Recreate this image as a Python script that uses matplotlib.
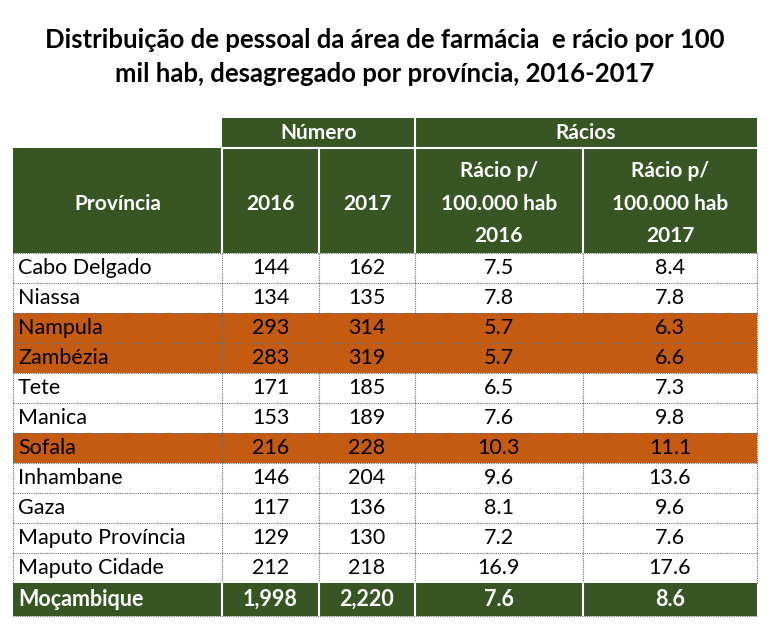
import matplotlib
matplotlib.use("Agg")
import matplotlib.pyplot as plt
from matplotlib.patches import Rectangle

# table data
provincias = ["Cabo Delgado", "Niassa", "Nampula", "Zambézia", "Tete", "Manica",
              "Sofala", "Inhambane", "Gaza", "Maputo Província", "Maputo Cidade"]
num_2016 = [144, 134, 293, 283, 171, 153, 216, 146, 117, 129, 212]
num_2017 = [162, 135, 314, 319, 185, 189, 228, 204, 136, 130, 218]
racio_2016 = [7.5, 7.8, 5.7, 5.7, 6.5, 7.6, 10.3, 9.6, 8.1, 7.2, 16.9]
racio_2017 = [8.4, 7.8, 6.3, 6.6, 7.3, 9.8, 11.1, 13.6, 9.6, 7.6, 17.6]
destaque = ["Nampula", "Zambézia", "Sofala"]
total = ["Moçambique", 1998, 2220, 7.6, 8.6]

titulo = "Distribuição de pessoal da área de farmácia  e rácio por 100\nmil hab, desagregado por província, 2016-2017"
grupos = ["Número", "Rácios"]
cabecalho = ["Província", "2016", "2017", "Rácio p/\n100.000 hab\n2016", "Rácio p/\n100.000 hab\n2017"]

GREEN = "#375623"
ORANGE = "#C55A11"
plt.rcParams["font.family"] = ["Lato", "DejaVu Sans"]

fig = plt.figure(figsize=(7.78, 6.36), dpi=100)
ax = fig.add_axes([0, 0, 1, 1])
ax.set_xlim(0, 778)
ax.set_ylim(636, 0)
ax.axis("off")

cols = [13, 222, 319, 415, 583, 757]
y_grp = (118, 148)
y_head = (148, 253)
row_h = 30
y_data0 = 253
y_tot = (583, 616)
FS = 15.5
FSH = 15

ax.text(385, 57, titulo, ha="center", va="center", fontsize=18.5, fontweight="bold",
        linespacing=1.45)

# group header row
ax.add_patch(Rectangle((cols[1], y_grp[0]), cols[-1] - cols[1], y_grp[1] - y_grp[0],
                       facecolor=GREEN, edgecolor="none"))
ax.text((cols[1] + cols[3]) / 2, sum(y_grp) / 2, grupos[0], ha="center", va="center",
        color="white", fontsize=FSH, fontweight="bold")
ax.text((cols[3] + cols[5]) / 2, sum(y_grp) / 2, grupos[1], ha="center", va="center",
        color="white", fontsize=FSH, fontweight="bold")
ax.plot([cols[3], cols[3]], y_grp, color="white", lw=1.5)

# column header row
ax.add_patch(Rectangle((cols[0], y_head[0]), cols[-1] - cols[0], y_head[1] - y_head[0],
                       facecolor=GREEN, edgecolor="none"))
ax.plot([cols[1], cols[-1]], [y_head[0], y_head[0]], color="white", lw=1.5)
for i, h in enumerate(cabecalho):
    ax.text((cols[i] + cols[i + 1]) / 2, sum(y_head) / 2 + 3, h, ha="center", va="center",
            color="white", fontsize=FSH, fontweight="bold", linespacing=1.8)
    if i > 0:
        ax.plot([cols[i], cols[i]], y_head, color="white", lw=1.5)

# data rows
for r, prov in enumerate(provincias):
    y0 = y_data0 + r * row_h
    fc = ORANGE if prov in destaque else "white"
    ax.add_patch(Rectangle((cols[0], y0), cols[-1] - cols[0], row_h, facecolor=fc,
                           edgecolor="none"))
    yc = y0 + row_h / 2
    ax.text(cols[0] + 5, yc, prov, ha="left", va="center", fontsize=FS)
    vals = [f"{num_2016[r]}", f"{num_2017[r]}", f"{racio_2016[r]:.1f}", f"{racio_2017[r]:.1f}"]
    for c, v in enumerate(vals):
        ax.text((cols[c + 1] + cols[c + 2]) / 2, yc, v, ha="center", va="center", fontsize=FS)
    ax.plot([cols[0], cols[-1]], [y0, y0], color="#6f6f6f", lw=0.8, ls=(0, (1, 1)))
    for x in cols:
        ax.plot([x, x], [y0, y0 + row_h], color="#6f6f6f", lw=0.8, ls=(0, (1, 1)))

# total row
ax.add_patch(Rectangle((cols[0], y_tot[0]), cols[-1] - cols[0], y_tot[1] - y_tot[0],
                       facecolor=GREEN, edgecolor="none"))
yc = sum(y_tot) / 2
ax.text(cols[0] + 5, yc, total[0], ha="left", va="center", color="white", fontsize=FS,
        fontweight="bold")
tvals = [f"{total[1]:,}", f"{total[2]:,}", f"{total[3]:.1f}", f"{total[4]:.1f}"]
for c, v in enumerate(tvals):
    ax.text((cols[c + 1] + cols[c + 2]) / 2, yc, v, ha="center", va="center", color="white",
            fontsize=FS, fontweight="bold")
    ax.plot([cols[c + 1], cols[c + 1]], y_tot, color="white", lw=1.5)
ax.plot([cols[0], cols[-1]], [y_tot[1], y_tot[1]], color="#6f6f6f", lw=0.8, ls=(0, (1, 1)))

fig.savefig("out.png", dpi=100)
